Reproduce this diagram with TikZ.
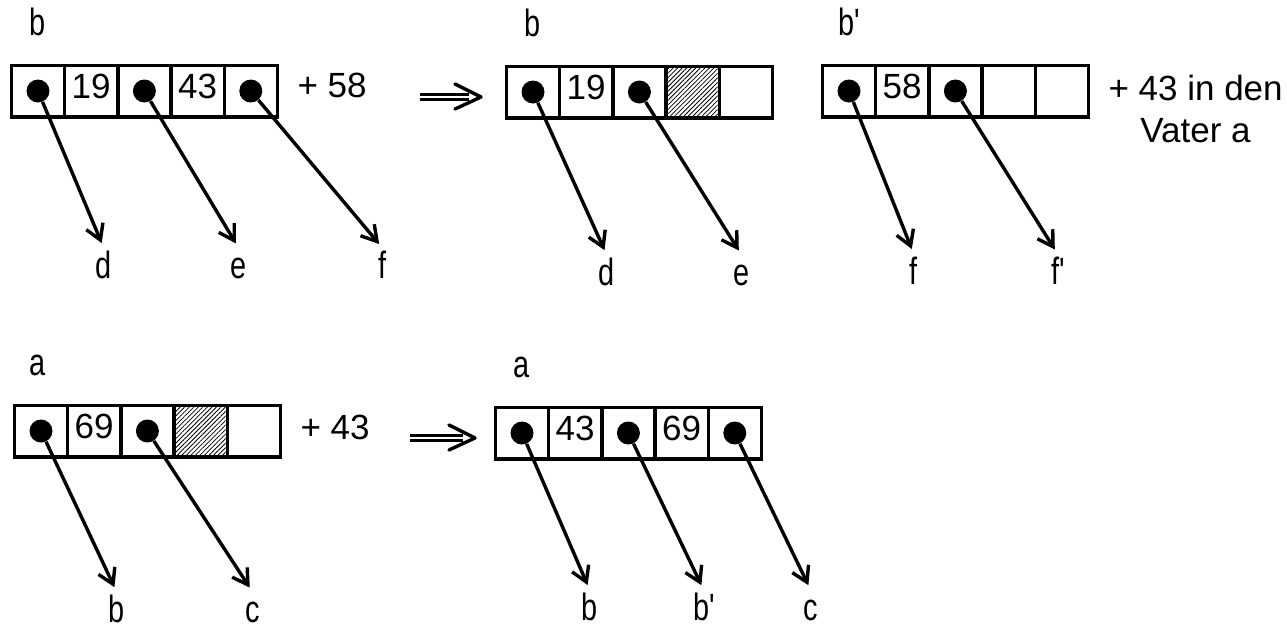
\documentclass[tikz,border=0pt]{standalone}
\usepackage{fontspec}
\setmainfont{Liberation Sans}
\usetikzlibrary{arrows.meta,backgrounds,chains,positioning,patterns.meta}
\tikzset{%
  CellStyle/.style={draw,line width=1.7pt,minimum width=26.6pt,minimum height=25.8pt,inner sep=0pt,
    text height=11pt,text depth=4pt,font=\fontsize{17.5}{20}\selectfont},
  DotStyle/.style={circle,fill,minimum size=11.5pt,inner sep=0pt},
  PtrStyle/.style={line width=1.7pt,-{Straight Barb[length=7.5pt,width=9pt]},shorten >=3pt},
  NameStyle/.style={font=\fontsize{19}{22}\selectfont,inner sep=0pt,text height=14.5pt,text depth=0pt,xscale=0.76},
  AddStyle/.style={font=\fontsize{17.5}{21}\selectfont,inner sep=0pt},
  HatchStyle/.style={pattern={Lines[angle=45,distance=1.6pt,line width=0.4pt]}},
  ImplyStyle/.style={line width=1.35pt,double distance=1pt,shorten >=6pt},
  ImplyHead/.style={line width=1.7pt,line cap=round,line join=round}
}
\begin{document}
\begin{tikzpicture}[x=0.5pt,y=-0.5pt]
  \useasboundingbox (0,0) rectangle (1287,628);
  % b vorher
  \begin{scope}[start chain, node distance=-1.7pt, shift={(38,91)}]
    \foreach \name [count=\xi] in {{},19,{},43,{}}
    { \node[CellStyle,on chain] (b\xi) {\name};}
  \end{scope}
  \foreach \i in {1,3,5} \node[DotStyle] (bd\i) at (b\i) {};
  \node[NameStyle, above=14pt of b1] (bname) {b};
  \node[AddStyle, right=9pt of b5, yshift=3pt] (badd) {+ 58};
  \node[NameStyle, anchor=base] (pd) at (104,278) {d};
  \node[NameStyle, anchor=base] (pe) at (239,278) {e};
  \node[NameStyle, anchor=base] (pf) at (383,278) {f};
  \draw[PtrStyle] (bd1) -- (pd.north);
  \draw[PtrStyle] (bd3) -- (pe.north);
  \draw[PtrStyle] (bd5) -- (pf.north);
  \coordinate (imp1s) at (420,97);
  \coordinate (imp1e) at (481,97);
  \draw[ImplyStyle] (imp1s) -- (imp1e);
  \draw[ImplyHead] ([xshift=-13pt,yshift=6.5pt]imp1e) -- (imp1e) -- ([xshift=-13pt,yshift=-6pt]imp1e);

  % b nachher
  \begin{scope}[start chain, node distance=-1.7pt, shift={(533,92)}]
    \foreach \name [count=\xi] in {{},19,{},{},{}}
    { \node[CellStyle,on chain] (bn\xi) {\name};}
  \end{scope}
  \begin{scope}[on background layer]
    \path[HatchStyle] ([xshift=1.7pt,yshift=-1.7pt]bn4.north west) rectangle ([xshift=-1.7pt,yshift=1.7pt]bn4.south east);
  \end{scope}
  \foreach \i in {1,3} \node[DotStyle] (bnd\i) at (bn\i) {};
  \node[NameStyle, above=14pt of bn1] (bnname) {b};
  \node[NameStyle, anchor=base] (qd) at (607,285) {d};
  \node[NameStyle, anchor=base] (qe) at (742,285) {e};
  \draw[PtrStyle] (bnd1) -- (qd.north);
  \draw[PtrStyle] (bnd3) -- (qe.north);

  % b' neu
  \begin{scope}[start chain, node distance=-1.7pt, shift={(849,91)}]
    \foreach \name [count=\xi] in {{},58,{},{},{}}
    { \node[CellStyle,on chain] (bs\xi) {\name};}
  \end{scope}
  \foreach \i in {1,3} \node[DotStyle] (bsd\i) at (bs\i) {};
  \node[NameStyle, above=14pt of bs1] (bsname) {b\textquotesingle};
  \node[AddStyle, align=center, right=9pt of bs5, yshift=-9pt] (bsadd) {+ 43 in den\\Vater a};
  \node[NameStyle, anchor=base] (rf) at (914,284) {f};
  \node[NameStyle, anchor=base] (rfp) at (1058,284) {f\textquotesingle};
  \draw[PtrStyle] (bsd1) -- (rf.north);
  \draw[PtrStyle] (bsd3) -- (rfp.north);

  % a vorher
  \begin{scope}[start chain, node distance=-1.7pt, shift={(41,431)}]
    \foreach \name [count=\xi] in {{},69,{},{},{}}
    { \node[CellStyle,on chain] (a\xi) {\name};}
  \end{scope}
  \begin{scope}[on background layer]
    \path[HatchStyle] ([xshift=1.7pt,yshift=-1.7pt]a4.north west) rectangle ([xshift=-1.7pt,yshift=1.7pt]a4.south east);
  \end{scope}
  \foreach \i in {1,3} \node[DotStyle] (ad\i) at (a\i) {};
  \node[NameStyle, above=14pt of a1, xshift=-2pt] (aname) {a};
  \node[AddStyle, right=9pt of a5, yshift=2pt] (aadd) {+ 43};
  \node[NameStyle, anchor=base] (ub) at (117,622) {b};
  \node[NameStyle, anchor=base] (uc) at (253,622) {c};
  \draw[PtrStyle] (ad1) -- (ub.north);
  \draw[PtrStyle] (ad3) -- (uc.north);
  \coordinate (imp2s) at (410,438);
  \coordinate (imp2e) at (475,438);
  \draw[ImplyStyle] (imp2s) -- (imp2e);
  \draw[ImplyHead] ([xshift=-13pt,yshift=6.5pt]imp2e) -- (imp2e) -- ([xshift=-13pt,yshift=-6pt]imp2e);

  % a nachher
  \begin{scope}[start chain, node distance=-1.7pt, shift={(522,433)}]
    \foreach \name [count=\xi] in {{},43,{},69,{}}
    { \node[CellStyle,on chain] (an\xi) {\name};}
  \end{scope}
  \foreach \i in {1,3,5} \node[DotStyle] (and\i) at (an\i) {};
  \node[NameStyle, above=14pt of an1] (anname) {a};
  \node[NameStyle, anchor=base] (vb) at (590,620) {b};
  \node[NameStyle, anchor=base] (vbp) at (704,620) {b\textquotesingle};
  \node[NameStyle, anchor=base] (vc) at (811,620) {c};
  \draw[PtrStyle] (and1) -- (vb.north);
  \draw[PtrStyle] (and3) -- (vbp.north);
  \draw[PtrStyle] (and5) -- (vc.north);
\end{tikzpicture}
\end{document}
